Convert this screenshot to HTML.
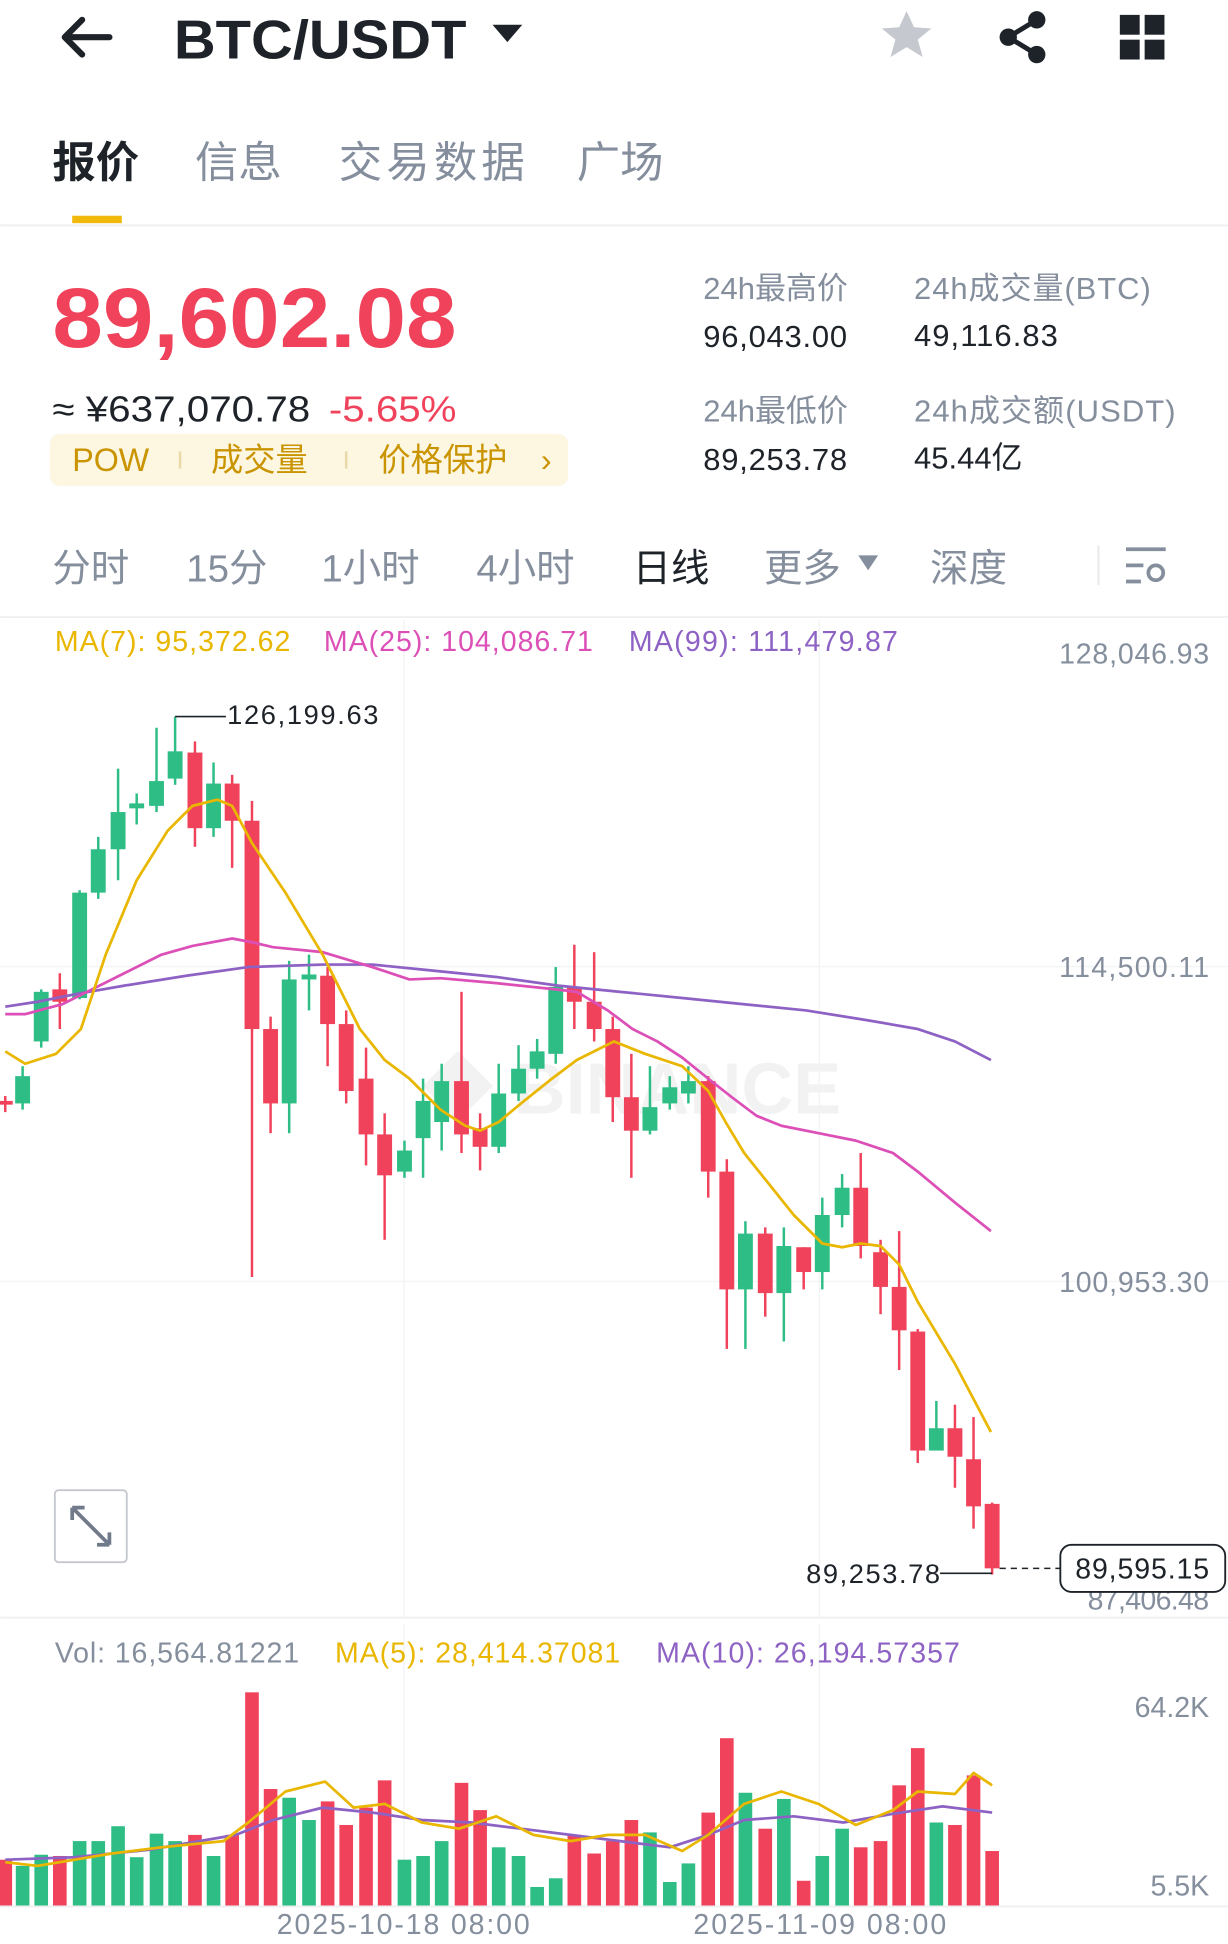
<!DOCTYPE html>
<html><head><meta charset="utf-8"><style>
html,body{margin:0;padding:0;background:#fff;}
svg{display:block}
text{font-family:"Liberation Sans","Noto Sans CJK SC",sans-serif;}
</style></head><body>
<svg id="s" width="1228" height="1944" viewBox="0 0 990 1568" xmlns="http://www.w3.org/2000/svg">
<rect width="990" height="1568" fill="#fff"/>
<path d="M88 30 H52 M66 16 L52 30 L66 44" stroke="#1e2329" stroke-width="5" fill="none" stroke-linecap="round" stroke-linejoin="round"/>
<text x="140" y="47" font-size="44" font-weight="bold" fill="#1e2329" textLength="236" lengthAdjust="spacingAndGlyphs">BTC/USDT</text>
<path d="M397 20 L421 20 L409 34 Z" fill="#1e2329"/>
<path d="M731 9 l6 13 14 1 -11 9 4 14 -13 -8 -13 8 4 -14 -11 -9 14 -1z" fill="#c5c9cf"/>
<circle cx="836" cy="16" r="7" fill="#1e2329"/><circle cx="836" cy="44" r="7" fill="#1e2329"/><circle cx="813" cy="30" r="7" fill="#1e2329"/>
<path d="M836 16 L813 30 L836 44" stroke="#1e2329" stroke-width="4" fill="none"/>
<rect x="903" y="12" width="16" height="16" fill="#1e2329"/><rect x="923" y="12" width="16" height="16" fill="#1e2329"/><rect x="903" y="32" width="16" height="16" fill="#1e2329"/><rect x="923" y="32" width="16" height="16" fill="#1e2329"/>
<g font-size="35" fill="#848e9c">
<text x="42" y="143" fill="#1e2329" font-weight="bold">报价</text>
<text x="157" y="143">信息</text><text x="273" y="143" textLength="150">交易数据</text><text x="465" y="143">广场</text></g>
<rect x="58" y="174" width="40" height="6" fill="#f0b90b"/>
<rect x="0" y="181" width="990" height="1.5" fill="#eeeff1"/>
<text x="42" y="280" font-size="68" font-weight="bold" fill="#f0435b" textLength="326" lengthAdjust="spacingAndGlyphs">89,602.08</text>
<text x="42" y="340" font-size="29" fill="#1e2329" textLength="208" lengthAdjust="spacingAndGlyphs">≈ ¥637,070.78</text>
<text x="265" y="340" font-size="29" fill="#f0435b" textLength="103" lengthAdjust="spacingAndGlyphs">-5.65%</text>
<rect x="40" y="350" width="418" height="42" rx="8" fill="#fdf6e1"/>
<g font-size="26" fill="#c99400"><text x="58" y="380">POW</text><text x="170" y="380">成交量</text><text x="305" y="380">价格保护</text><text x="436" y="380">›</text></g>
<rect x="144" y="364" width="2" height="14" fill="#ead9a8"/><rect x="278" y="364" width="2" height="14" fill="#ead9a8"/>
<g font-size="25" fill="#848e9c"><text x="567" y="241">24h最高价</text><text x="737" y="241" textLength="191">24h成交量(BTC)</text><text x="567" y="340">24h最低价</text><text x="737" y="340" textLength="211">24h成交额(USDT)</text></g>
<g font-size="25" fill="#1e2329"><text x="567" y="280" textLength="116">96,043.00</text><text x="737" y="279" textLength="116">49,116.83</text><text x="567" y="379" textLength="116">89,253.78</text><text x="737" y="378">45.44亿</text></g>
<g font-size="31" fill="#848e9c"><text x="42" y="469">分时</text><text x="150" y="469">15分</text><text x="259" y="469">1小时</text><text x="384" y="469">4小时</text><text x="510" y="469" fill="#1e2329">日线</text><text x="616" y="469">更多</text><text x="750" y="469">深度</text></g>
<path d="M692 448 L708 448 L700 460Z" fill="#848e9c"/>
<rect x="885" y="440" width="1.5" height="32" fill="#e6e8ea"/>
<g stroke="#848e9c" stroke-width="3" fill="none"><path d="M908 443 H940 M908 456 H922 M908 469 H920"/><circle cx="932" cy="462" r="6"/></g>
<rect x="0" y="497" width="990" height="1.5" fill="#eeeff1"/>
<g fill="#f3f4f6"><rect x="0" y="779" width="990" height="1.2"/><rect x="0" y="1033" width="990" height="1.2"/><rect x="325" y="500" width="1.2" height="805"/><rect x="660" y="500" width="1.2" height="805"/><rect x="325" y="1310" width="1.2" height="228"/><rect x="660" y="1310" width="1.2" height="228"/></g>
<g font-size="23" fill="#848e9c" text-anchor="end"><text x="975" y="535" textLength="121">128,046.93</text><text x="975" y="788" textLength="121">114,500.11</text><text x="975" y="1042" textLength="121">100,953.30</text><text x="975" y="1298" textLength="98">87,406.48</text><text x="975" y="1385">64.2K</text><text x="975" y="1529">5.5K</text></g>
<g font-size="23"><text x="44" y="525" fill="#e9b600" textLength="190">MA(7): 95,372.62</text><text x="261" y="525" fill="#dc4fb7" textLength="217">MA(25): 104,086.71</text><text x="507" y="525" fill="#8d62c4" textLength="217">MA(99): 111,479.87</text></g>
<text x="340" y="898" font-size="58" font-weight="bold" fill="#f2f2f3">◆ BINANCE</text>
<g id="candles"></g>
<g id="vols"></g>
<g fill="none" stroke-width="2.2" stroke-linejoin="round">
<polyline stroke="#8d62c4" points="4,812 30,808 60,802 100,795 150,787 200,780 260,778 300,778 340,782 400,788 450,795 500,800 550,805 600,810 650,815 700,823 740,830 770,840 799,855"/>
<polyline stroke="#dc4fb7" points="4,818 20,818 50,810 70,800 100,785 130,770 155,763 187,757 203,760 220,764 260,768 300,780 330,790 355,789 400,793 448,798 465,800 490,815 510,830 530,840 550,853 571,870 590,885 610,900 630,908 660,914 690,920 720,930 740,945 770,970 799,993"/>
<polyline stroke="#e9b600" points="4,848 20,858 45,850 65,830 85,770 110,710 135,670 155,650 175,645 187,650 203,680 230,720 260,770 290,830 310,855 330,870 355,895 375,908 387,912 402,905 420,890 445,870 465,855 485,845 495,840 520,850 550,860 571,880 585,905 600,930 620,955 640,980 663,1003 679,1006 694,1003 710,1005 725,1020 740,1050 770,1100 799,1155"/>
<polyline stroke="#8d62c4" points="4,1500 60,1498 120,1492 190,1480 220,1468 260,1458 300,1462 340,1468 380,1470 420,1475 460,1480 500,1485 540,1490 571,1480 600,1468 640,1465 680,1470 720,1463 760,1457 800,1462"/>
<polyline stroke="#e9b600" points="4,1502 30,1505 60,1500 90,1495 130,1490 180,1485 200,1470 230,1445 262,1437 285,1458 310,1455 340,1470 370,1475 400,1465 430,1480 460,1485 490,1480 520,1480 550,1493 571,1480 600,1455 630,1445 660,1455 690,1472 720,1460 740,1445 770,1447 785,1430 800,1440"/>
</g>
<path d="M141 578 H182" stroke="#1e2329" stroke-width="1.3"/>
<text x="183" y="584" font-size="22" fill="#1e2329" textLength="122">126,199.63</text>
<path d="M758 1269 H800" stroke="#1e2329" stroke-width="1.3"/>
<text x="650" y="1277" font-size="22" fill="#1e2329" textLength="108">89,253.78</text>
<path d="M806 1265 H855" stroke="#1e2329" stroke-width="1.2" stroke-dasharray="5,4"/>
<rect x="855" y="1246" width="133" height="38" rx="9" fill="#fff" stroke="#1e2329" stroke-width="1.5"/>
<text x="921" y="1273" font-size="23" fill="#1e2329" text-anchor="middle" textLength="108">89,595.15</text>
<rect x="44" y="1202" width="58" height="58" rx="3" fill="#fff" stroke="#c5c9cf" stroke-width="1.5"/>
<path d="M58 1216 L88 1246 M58 1216 v10 M58 1216 h10 M88 1246 v-10 M88 1246 h-10" stroke="#707a8a" stroke-width="3" fill="none"/>
<rect x="0" y="1304" width="990" height="1.5" fill="#eeeff1"/>
<g font-size="23"><text x="44" y="1341" fill="#848e9c" textLength="197">Vol: 16,564.81221</text><text x="270" y="1341" fill="#e9b600" textLength="230">MA(5): 28,414.37081</text><text x="529" y="1341" fill="#8d62c4" textLength="245">MA(10): 26,194.57357</text></g>
<rect x="0" y="1537" width="990" height="1.5" fill="#eeeff1"/>
<g font-size="23" fill="#848e9c" text-anchor="middle"><text x="325" y="1560" textLength="204">2025-10-18 08:00</text><text x="661" y="1560" textLength="204">2025-11-09 08:00</text></g>
</svg>
<script>
var G="#2ebd85",R="#f0435b",ns="http://www.w3.org/2000/svg";
var c=[[4,'r',888,891,884,897],[18,'g',868,890,860,895],[33,'g',800,840,798,845],[48,'r',798,808,785,830],[64,'g',720,805,718,806],[79,'g',685,720,675,725],[95,'g',655,685,620,710],[110,'g',648,652,640,665],[126,'g',630,650,587,655],[141,'g',606,628,578,633],[157,'r',607,668,598,683],[172,'g',632,668,615,675],[187,'r',632,662,625,700],[203,'r',662,830,646,1030],[218,'r',830,890,820,914],[233,'g',790,890,775,914],[249,'g',786,790,770,815],[264,'r',787,826,780,860],[279,'r',826,880,815,890],[295,'r',870,915,845,940],[310,'r',915,948,898,1000],[326,'g',928,945,920,950],[341,'g',888,918,870,950],[356,'g',872,905,858,928],[372,'r',872,915,800,930],[387,'r',910,925,898,944],[402,'g',882,925,858,930],[418,'g',862,882,843,888],[433,'g',848,862,838,870],[448,'g',796,850,780,858],[463,'r',796,808,762,830],[479,'r',808,830,768,840],[494,'r',830,885,820,905],[509,'r',885,912,850,950],[524,'g',893,912,860,915],[540,'g',877,890,868,895],[555,'g',872,882,860,890],[571,'r',872,945,868,966],[586,'r',945,1040,935,1088],[601,'g',995,1040,985,1088],[617,'r',995,1043,990,1062],[632,'g',1005,1043,990,1082],[648,'r',1006,1026,1006,1040],[663,'g',980,1026,966,1040],[679,'g',958,980,947,990],[694,'r',958,1005,930,1015],[710,'r',1010,1038,1000,1060],[725,'r',1038,1073,993,1105],[740,'r',1074,1170,1072,1180],[755,'g',1152,1170,1130,1170],[770,'r',1152,1175,1133,1200],[785,'r',1177,1215,1143,1233],[800,'r',1213,1265,1212,1270]];
var v=[1500,1505,1496,1497,1485,1485,1473,1498,1479,1485,1480,1497,1480,1365,1443,1450,1468,1453,1472,1458,1436,1500,1497,1485,1438,1460,1490,1497,1522,1515,1480,1495,1485,1468,1478,1518,1503,1462,1402,1446,1475,1451,1517,1497,1475,1490,1485,1440,1410,1470,1472,1432,1493];
var cg=document.getElementById('candles'),vg=document.getElementById('vols');
function r(g,x,y,w,h,f){var e=document.createElementNS(ns,'rect');e.setAttribute('x',x);e.setAttribute('y',y);e.setAttribute('width',w);e.setAttribute('height',Math.max(h,1.5));e.setAttribute('fill',f);g.appendChild(e);}
c.forEach(function(k,i){var f=k[1]=='g'?G:R;r(cg,k[0]-1,k[4],2,k[5]-k[4],f);r(cg,k[0]-6,k[2],12,k[3]-k[2],f);r(vg,k[0]-5.5,v[i],11,1537-v[i],f);});
</script>
</body></html>
